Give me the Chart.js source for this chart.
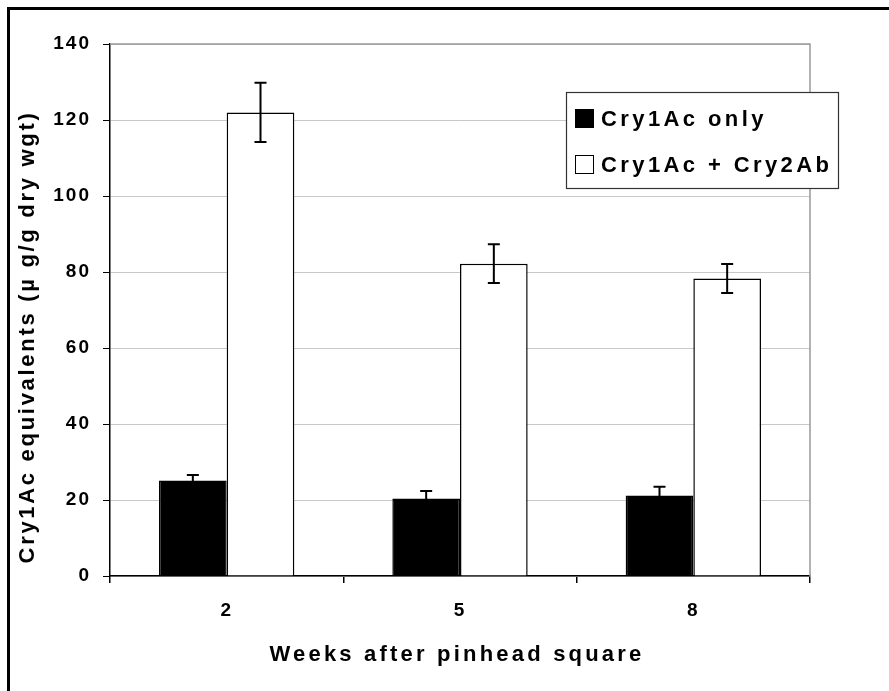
<!DOCTYPE html>
<html>
<head>
    <title>Cry1Ac equivalents</title>
    <script src="https://cdn.jsdelivr.net/npm/chart.js"></script>
    <style>
        body { margin: 0; background: #fff; }
        #frame {
            position: absolute; left: 7px; top: 7px; right: -10px; bottom: -10px;
            border-left: 3px solid #000; border-top: 3px solid #000;
        }
        #cryChart { position: absolute; left: 0; top: 0; }
    </style>
</head>
<body>
    <div id="frame"></div>
    <canvas id="cryChart" width="889" height="691"></canvas>

    <script>
        const weeks = ['2', '5', '8'];
        const cry1AcOnly = [25.1, 20.4, 21.2];
        const cry1AcOnlyErr = [1.5, 2.0, 2.3];
        const cry1AcCry2Ab = [122.0, 82.2, 78.3];
        const cry1AcCry2AbErr = [7.8, 5.1, 3.8];
        const seriesNames = ['Cry1Ac only', 'Cry1Ac + Cry2Ab'];
        const yTitle = 'Cry1Ac equivalents (\u00b5 g/g dry wgt)';
        const xTitle = 'Weeks after pinhead square';

        const FONT = '"Liberation Sans", Arial, sans-serif';

        // error bars, frame lines, legend and axis titles
        const extras = {
            id: 'extras',
            beforeDraw(chart) {
                chart.ctx.letterSpacing = '2px';
            },
            afterDatasetsDraw(chart) {
                const ctx = chart.ctx;
                const y = chart.scales.y;
                const errs = [cry1AcOnlyErr, cry1AcCry2AbErr];
                ctx.save();
                ctx.strokeStyle = '#000';
                ctx.lineWidth = 2;
                chart.data.datasets.forEach((ds, i) => {
                    chart.getDatasetMeta(i).data.forEach((bar, j) => {
                        const top = y.getPixelForValue(ds.data[j] + errs[i][j]);
                        const bot = y.getPixelForValue(ds.data[j] - errs[i][j]);
                        ctx.beginPath();
                        ctx.moveTo(bar.x, top); ctx.lineTo(bar.x, bot);
                        ctx.moveTo(bar.x - 6, top); ctx.lineTo(bar.x + 6, top);
                        ctx.moveTo(bar.x - 6, bot); ctx.lineTo(bar.x + 6, bot);
                        ctx.stroke();
                    });
                });
                ctx.restore();
            },
            afterDraw(chart) {
                const ctx = chart.ctx;
                const a = chart.chartArea;
                ctx.save();
                // top / right plot border
                ctx.strokeStyle = '#999';
                ctx.lineWidth = 1.5;
                ctx.beginPath();
                ctx.moveTo(a.left, a.top); ctx.lineTo(a.right, a.top); ctx.lineTo(a.right, a.bottom);
                ctx.stroke();

                // legend
                ctx.fillStyle = '#fff';
                ctx.fillRect(566, 92, 272, 96);
                ctx.strokeStyle = '#333';
                ctx.lineWidth = 1.2;
                ctx.strokeRect(566.5, 92.5, 272, 96);
                ctx.font = 'bold 22px ' + FONT;
                ctx.letterSpacing = '3.4px';
                ctx.textBaseline = 'middle';
                ctx.textAlign = 'left';
                chart.data.datasets.forEach((ds, i) => {
                    const cy = 118.5 + i * 46;
                    ctx.fillStyle = ds.backgroundColor;
                    ctx.fillRect(575, cy - 9.5, 19, 19);
                    ctx.strokeStyle = '#000';
                    ctx.lineWidth = 1;
                    ctx.strokeRect(575.5, cy - 9, 18, 18);
                    ctx.fillStyle = '#000';
                    ctx.fillText(ds.label, 601, cy + 1);
                });

                // axis titles
                ctx.fillStyle = '#000';
                ctx.textAlign = 'center';
                ctx.letterSpacing = '3.2px';
                ctx.fillText(xTitle, 457, 655);
                ctx.translate(28, 337);
                ctx.rotate(-Math.PI / 2);
                ctx.letterSpacing = '2.7px';
                ctx.fillText(yTitle, 0, 0);
                ctx.restore();
            }
        };

        new Chart(document.getElementById('cryChart'), {
            type: 'bar',
            data: {
                labels: weeks,
                datasets: [{
                    label: seriesNames[0],
                    data: cry1AcOnly,
                    backgroundColor: '#000',
                    borderColor: '#000',
                    borderWidth: 1.5
                }, {
                    label: seriesNames[1],
                    data: cry1AcCry2Ab,
                    backgroundColor: '#fff',
                    borderColor: '#000',
                    borderWidth: 1.5
                }]
            },
            options: {
                responsive: false,
                animation: false,
                devicePixelRatio: 1,
                layout: { padding: { left: 0, top: 44, right: 79, bottom: 0 } },
                datasets: { bar: { categoryPercentage: 0.58, barPercentage: 1 } },
                plugins: { legend: { display: false }, tooltip: { enabled: false } },
                scales: {
                    x: {
                        afterFit(scale) { scale.height = 115; },
                        border: { color: '#000', width: 1.5 },
                        grid: { drawOnChartArea: false, tickLength: 7, tickColor: '#000', lineWidth: 1.5 },
                        ticks: { color: '#000', padding: 16, font: { family: FONT, size: 19, weight: 'bold' } }
                    },
                    y: {
                        min: 0,
                        max: 140,
                        afterFit(scale) { scale.width = 110; },
                        border: { color: '#000', width: 1.5 },
                        grid: { color: '#c8c8c8', lineWidth: 1, tickLength: 7, tickColor: '#000' },
                        ticks: { stepSize: 20, color: '#000', padding: 12, font: { family: FONT, size: 19, weight: 'bold' } }
                    }
                }
            },
            plugins: [extras]
        });
    </script>
</body>
</html>
